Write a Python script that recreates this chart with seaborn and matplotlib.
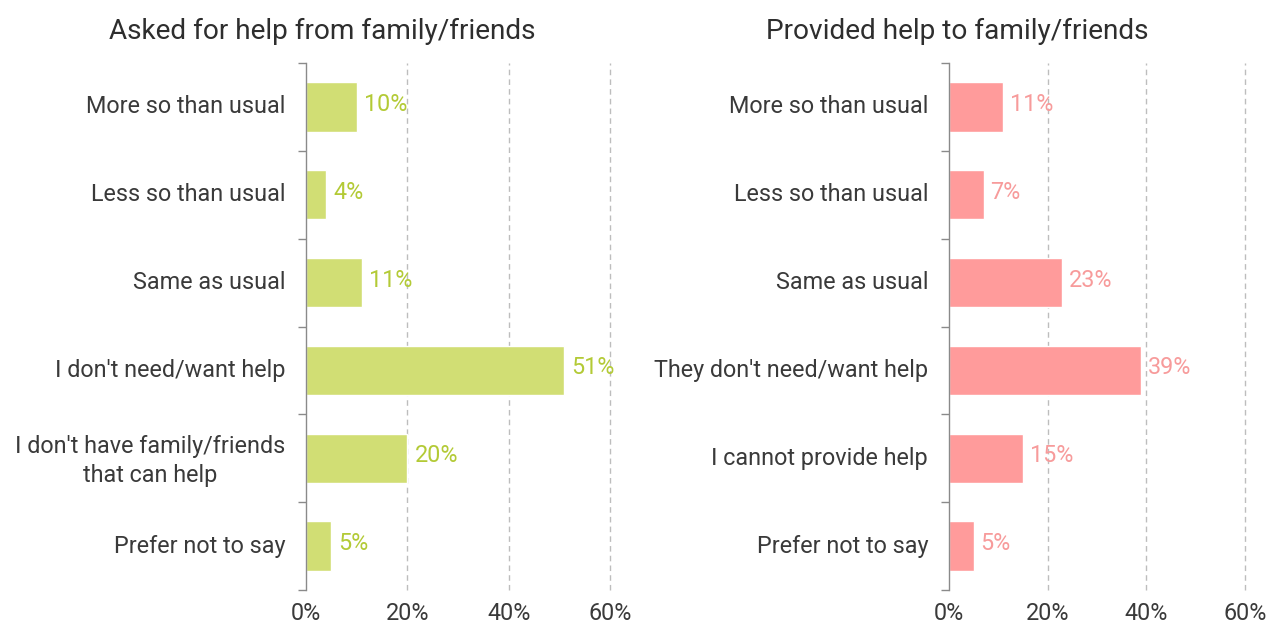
import matplotlib
matplotlib.use("Agg")
import matplotlib.pyplot as plt
import matplotlib.transforms as mtransforms
import seaborn as sns
import pandas as pd
import numpy as np

# Survey responses (percent of respondents)
asked_labels = [
    "More so than usual",
    "Less so than usual",
    "Same as usual",
    "I don't need/want help",
    "I don't have family/friends\nthat can help",
    "Prefer not to say",
]
asked_values = [10, 4, 11, 51, 20, 5]

provided_labels = [
    "More so than usual",
    "Less so than usual",
    "Same as usual",
    "They don't need/want help",
    "I cannot provide help",
    "Prefer not to say",
]
provided_values = [11, 7, 23, 39, 15, 5]

x_ticks = [0, 20, 40, 60]

sns.set_style("white")
plt.rcParams["font.family"] = ["Roboto", "DejaVu Sans"]

TEXT = "#3a3a3a"
AXIS = "#8a8a8a"
GRID = "#bdbdbd"
FS = 16.8

fig = plt.figure(figsize=(12.69, 6.26), dpi=100)
ax_l = fig.add_axes([306 / 1269, 1 - 590 / 626, (610 - 306) / 1269, (590 - 63) / 626])
ax_r = fig.add_axes([949 / 1269, 1 - 590 / 626, (1245 - 949) / 1269, (590 - 63) / 626])

lift = mtransforms.ScaledTranslation(0, 2.5 / 100, fig.dpi_scale_trans)


def draw(ax, labels, values, bar_color, text_color):
    df = pd.DataFrame({"label": labels, "value": values})
    sns.barplot(data=df, x="value", y="label", orient="h", color=bar_color,
                width=0.56, saturation=1, ax=ax)
    n = len(labels)
    ax.set_xlim(0, 60)
    ax.set_ylim(n - 0.5, -0.5)
    ax.set_xlabel("")
    ax.set_ylabel("")
    # value labels at the bar ends
    for i, v in enumerate(values):
        ax.text(v + 1.4, i, f"{v}%", va="center", ha="left", fontsize=FS,
                color=text_color, transform=ax.transData + lift)
    # dashed vertical grid
    for xv in x_ticks[1:]:
        ax.axvline(xv, color=GRID, lw=1, ls=(0, (4, 3)), zorder=0, clip_on=False)
    ax.set_xticks(x_ticks)
    ax.set_xticklabels([f"{t}%" for t in x_ticks])
    ax.tick_params(axis="x", length=0, pad=9, labelsize=FS, labelcolor=TEXT)
    ax.set_yticks(range(n))
    ax.set_yticklabels(labels, multialignment="center", linespacing=1.3)
    ax.tick_params(axis="y", which="major", left=False, length=0, pad=15,
                   labelsize=FS, labelcolor=TEXT)
    for t in ax.get_yticklabels():
        t.set_transform(t.get_transform() + lift)
    ax.set_yticks(np.arange(-0.5, n), minor=True)
    ax.tick_params(axis="y", which="minor", left=True, length=6, width=1,
                   color=AXIS, direction="out")
    for s in ["top", "right", "bottom"]:
        ax.spines[s].set_visible(False)
    ax.spines["left"].set_color(AXIS)
    ax.spines["left"].set_linewidth(1)


draw(ax_l, asked_labels, asked_values, "#d1de74", "#b3ca36")
draw(ax_r, provided_labels, provided_values, "#ff9b9b", "#f79b9b")

fig.text(322 / 1269, 1 - 31 / 626, "Asked for help from family/friends",
         ha="center", va="center", fontsize=20.2, color="#2e2e2e")
fig.text(957 / 1269, 1 - 31 / 626, "Provided help to family/friends",
         ha="center", va="center", fontsize=20.2, color="#2e2e2e")

fig.savefig("out.png", dpi=100)
